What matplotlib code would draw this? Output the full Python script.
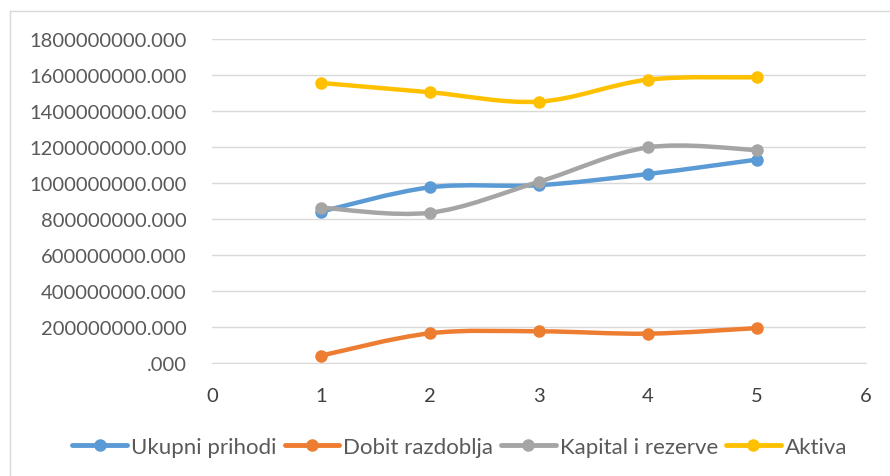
import numpy as np
from matplotlib import pyplot as plt
from matplotlib.path import Path
from matplotlib.patches import PathPatch
from matplotlib.lines import Line2D
from matplotlib.ticker import FuncFormatter

plt.rcParams['font.family'] = ['Lato', 'DejaVu Sans']

years = [1, 2, 3, 4, 5]
ukupni_prihodi = [841e6, 976e6, 988e6, 1050e6, 1130e6]
dobit_razdoblja = [41e6, 165e6, 176e6, 163e6, 194e6]
kapital_i_rezerve = [863e6, 835e6, 1007e6, 1198e6, 1183e6]
aktiva = [1556e6, 1504e6, 1452e6, 1574e6, 1587e6]

names = ['Ukupni prihodi', 'Dobit razdoblja', 'Kapital i rezerve', 'Aktiva']
colors = ['#5b9bd5', '#ed7d31', '#a5a5a5', '#ffc000']
series = [ukupni_prihodi, dobit_razdoblja, kapital_i_rezerve, aktiva]


def smooth_path(x, y):
    # Excel-like smoothed line: Catmull-Rom as cubic bezier segments
    pts = np.column_stack([x, y]).astype(float)
    n = len(pts)
    verts = [pts[0]]
    codes = [Path.MOVETO]
    for i in range(n - 1):
        p0 = pts[i - 1] if i > 0 else pts[i]
        p1 = pts[i]
        p2 = pts[i + 1]
        p3 = pts[i + 2] if i + 2 < n else pts[i + 1]
        c1 = p1 + (p2 - p0) / 6
        c2 = p2 - (p3 - p1) / 6
        verts += [c1, c2, p2]
        codes += [Path.CURVE4] * 3
    return Path(verts, codes)


fig = plt.figure(figsize=(8.9, 4.77), dpi=100)
ax = fig.add_axes([212 / 890, 1 - 364 / 477, (866 - 212) / 890, (364 - 40) / 477])

for vals, name, col in zip(series, names, colors):
    patch = PathPatch(smooth_path(years, vals), facecolor='none', edgecolor=col,
                      lw=3.2, capstyle='round', joinstyle='round', zorder=3)
    ax.add_patch(patch)
    ax.plot(years, vals, 'o', color=col, ms=8, zorder=4)

ax.set_xlim(0, 6)
ax.set_ylim(0, 1.8e9)
ax.set_xticks(range(0, 7))
ax.set_yticks(np.arange(0, 1.8e9 + 1, 2e8))
ax.yaxis.set_major_formatter(FuncFormatter(lambda v, p: '.000' if v == 0 else f'{v:.3f}'))
ax.grid(axis='y', color='#d9d9d9', lw=1)
ax.set_axisbelow(True)
for s in ['top', 'right', 'left']:
    ax.spines[s].set_visible(False)
ax.spines['bottom'].set_color('#d9d9d9')
ax.tick_params(length=0, labelsize=14.5, colors='#595959')
ax.tick_params(axis='x', pad=17, labelcolor='#404040')
ax.tick_params(axis='y', pad=18)

handles = [Line2D([0], [0], color=c, lw=3.5, marker='o', ms=8, solid_capstyle='round')
           for c in colors]
fig.legend(handles, names, loc='center', bbox_to_anchor=(460 / 890, 1 - 448 / 477),
           ncol=4, frameon=False, fontsize=16, handlelength=2.45, handletextpad=0.2,
           columnspacing=0.35, labelcolor='#595959', borderpad=0)

fig.add_artist(Line2D([10 / 890, 1], [1 - 12 / 477, 1 - 12 / 477], color='#d9d9d9', lw=1))
fig.add_artist(Line2D([10 / 890, 10 / 890], [0, 1 - 12 / 477], color='#d9d9d9', lw=1))

fig.savefig('out.png', dpi=100)
